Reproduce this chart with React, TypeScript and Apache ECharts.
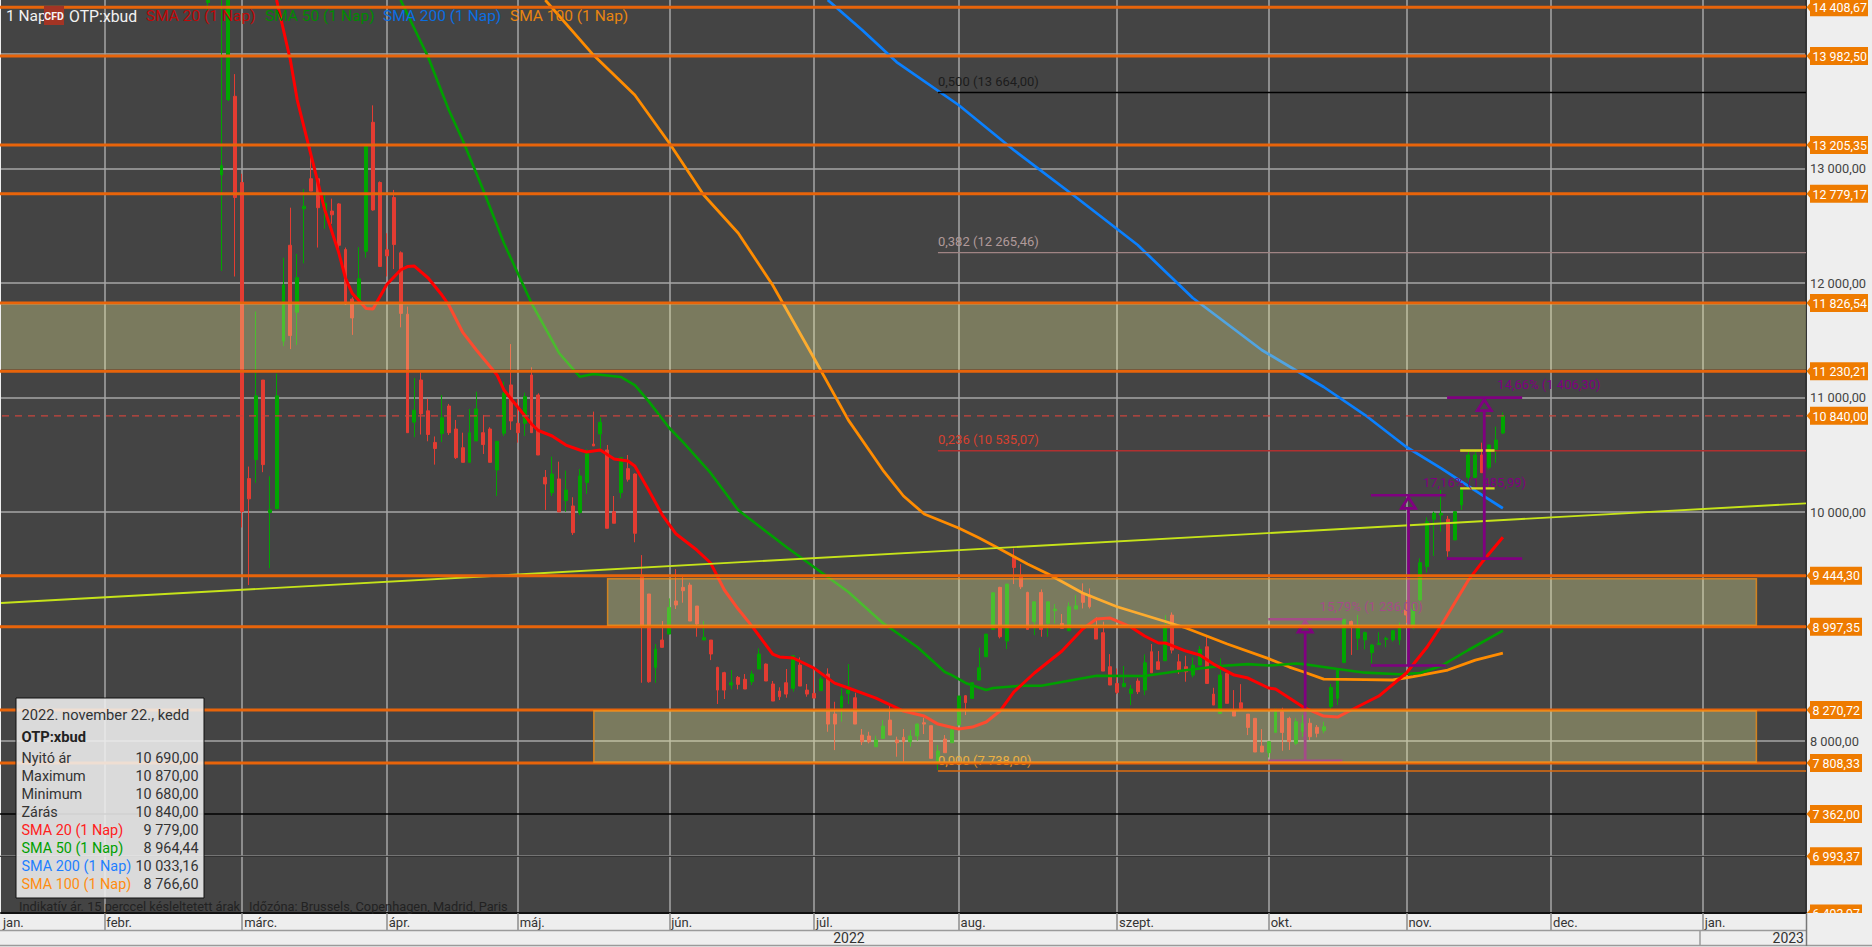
import React, { useEffect, useRef } from "react";
import * as echarts from "echarts";

const FONT = "Roboto";
const W = 1872;
const H = 947;

// ---------- axis ----------
const categoryCount = 263;
const monthStarts = [0, 15, 35, 56, 75, 97, 118, 139, 162, 184, 204, 225, 247];
const monthNames = ["jan.", "febr.", "márc.", "ápr.", "máj.", "jún.", "júl.", "aug.", "szept.", "okt.", "nov.", "dec.", "jan."];
const yGridValues = [7000, 8000, 9000, 10000, 11000, 12000, 13000, 14000];
const yLabelValues = [8000, 10000, 11000, 12000, 13000];
const yMin = 6498;
const yMax = 14472;

// ---------- candles: [open, close, low, high], first row is category 30 ----------
const candleStart = 30;
const candles: number[][] = [
  [14450, 14700, 14385, 14800], [14900, 15100, 14700, 15200], [12944, 13026, 12106, 14600], [13601, 14600, 13590, 14650],
  [13631, 12747, 12057, 13825], [12878, 10004, 9865, 12954], [10292, 10115, 9362, 10397], [10457, 11015, 10256, 11751],
  [11153, 10414, 10348, 11153], [9996, 10019, 9510, 10312], [10029, 11015, 10029, 11209], [11492, 11984, 11449, 12221],
  [12330, 11541, 11423, 12658], [11745, 12047, 11459, 12254], [12648, 12671, 12172, 12822], [12911, 12803, 12803, 13184],
  [12911, 12658, 12310, 12911], [12632, 12697, 12474, 12770], [12629, 12596, 12517, 12737], [12691, 12330, 12270, 12698],
  [12293, 11817, 11810, 12310], [11860, 11695, 11547, 11876], [11843, 12037, 11843, 12313], [12277, 13207, 12221, 13207],
  [13404, 12638, 12632, 13552], [12878, 12145, 12145, 12888], [12290, 12237, 12057, 12435], [12747, 12336, 12122, 12813],
  [12264, 11735, 11613, 12277], [11728, 10693, 10693, 11794], [10785, 10890, 10654, 11170], [11153, 10857, 10677, 11219],
  [10884, 10677, 10618, 10989], [10608, 10555, 10414, 10660], [10686, 10824, 10611, 11022], [10926, 10693, 10673, 10944],
  [10725, 10475, 10463, 10804], [10562, 10434, 10434, 10693], [10434, 10693, 10434, 10900], [10621, 10900, 10621, 11051],
  [10693, 10589, 10507, 10848], [10725, 10434, 10434, 10740], [10367, 10618, 10140, 10618], [10688, 11037, 10664, 11139],
  [11110, 10795, 10717, 11467], [10775, 10693, 10606, 10987], [10775, 11008, 10664, 11043], [11197, 10693, 10693, 11264],
  [11022, 10498, 10498, 11037], [10303, 10245, 10018, 10367], [10169, 10332, 10140, 10484], [10289, 10001, 10001, 10440],
  [10100, 10193, 10003, 10362], [10053, 9820, 9800, 10129], [9995, 10315, 9974, 10376], [10257, 10513, 10158, 10548],
  [10594, 10577, 10577, 10877], [10682, 10784, 10542, 10827], [10542, 9858, 9858, 10586], [10003, 9902, 9902, 10140],
  [10169, 10475, 10120, 10478], [10379, 10286, 10266, 10498], [10332, 9814, 9736, 10338], [9450, 9000, 8509, 9624],
  [9284, 8518, 8509, 9284], [8643, 8803, 8509, 8847], [8882, 8818, 8818, 9048], [8934, 9167, 8934, 9246],
  [9223, 9188, 9153, 9502], [9342, 9313, 9208, 9435], [9362, 9048, 9048, 9383], [9179, 9022, 8911, 9179],
  [8882, 8905, 8882, 9048], [8882, 8760, 8707, 8882], [8643, 8445, 8323, 8649], [8597, 8445, 8367, 8605],
  [8489, 8509, 8451, 8620], [8556, 8495, 8451, 8568], [8539, 8454, 8454, 8585], [8518, 8585, 8489, 8614],
  [8629, 8760, 8629, 8809], [8672, 8524, 8524, 8678], [8498, 8349, 8349, 8524], [8437, 8387, 8358, 8469],
  [8509, 8410, 8378, 8629], [8460, 8745, 8431, 8745], [8664, 8480, 8480, 8731], [8445, 8410, 8387, 8498],
  [8416, 8375, 8375, 8620], [8440, 8541, 8440, 8562], [8585, 8148, 8081, 8635], [8236, 8148, 7921, 8343],
  [8294, 8393, 8169, 8460], [8416, 8445, 8323, 8672], [8378, 8148, 8148, 8422], [8052, 7994, 7965, 8105],
  [8044, 7994, 7980, 8081], [7950, 8009, 7950, 8047], [8023, 8131, 8023, 8183], [8183, 8052, 8052, 8306],
  [8009, 7985, 7863, 8038], [8032, 7994, 7820, 8105], [7994, 8044, 7950, 8096], [8044, 8148, 8003, 8154],
  [8160, 8148, 8061, 8204], [8134, 7849, 7849, 8134], [7819, 7913, 7747, 7965], [8017, 7898, 7898, 8052],
  [7985, 8096, 7985, 8125], [8140, 8393, 8140, 8393], [8396, 8335, 8227, 8402], [8372, 8509, 8372, 8509],
  [8532, 8640, 8532, 8815], [8736, 8934, 8736, 8934], [8975, 9295, 8975, 9295], [9342, 8911, 8896, 9347],
  [8873, 9371, 8803, 9371], [9609, 9516, 9371, 9682], [9435, 9347, 9327, 9545], [9298, 8975, 8975, 9304],
  [9042, 9216, 8925, 9216], [9298, 8975, 8911, 9324], [9027, 9216, 8911, 9216], [9138, 9152, 9027, 9196],
  [9027, 8984, 8984, 9109], [8963, 9173, 8963, 9211], [9152, 9182, 9152, 9275], [9289, 9211, 9158, 9377],
  [9275, 9173, 9158, 9333], [9004, 8890, 8890, 9080], [8946, 8611, 8611, 9042], [8649, 8489, 8489, 8759],
  [8503, 8425, 8410, 8634], [8474, 8503, 8474, 8655], [8416, 8454, 8314, 8489], [8524, 8431, 8410, 8547],
  [8445, 8684, 8401, 8756], [8780, 8596, 8596, 8847], [8692, 8626, 8626, 8786], [8701, 8992, 8701, 9100],
  [9100, 8794, 8765, 9123], [8692, 8620, 8585, 8759], [8649, 8605, 8518, 8745], [8576, 8663, 8556, 8730],
  [8663, 8800, 8663, 8829], [8823, 8503, 8503, 8925], [8410, 8314, 8314, 8465], [8241, 8576, 8241, 8722],
  [8591, 8329, 8329, 8605], [8265, 8218, 8218, 8445], [8334, 8285, 8285, 8497], [8235, 8119, 8052, 8235],
  [8198, 7904, 7904, 8198], [7956, 7904, 7904, 8104], [7898, 7994, 7857, 7994], [8075, 8256, 8075, 8285],
  [8256, 8075, 7915, 8291], [8198, 7995, 7922, 8212], [7980, 8169, 7965, 8198], [8082, 8155, 8038, 8227],
  [8155, 8038, 8009, 8198], [8120, 8067, 8032, 8140], [8090, 8125, 8067, 8169], [8300, 8469, 8271, 8498],
  [8373, 8627, 8315, 8635], [8685, 9063, 8685, 9063], [9043, 8993, 8752, 9052], [8897, 8993, 8795, 9101],
  [8883, 8947, 8801, 8956], [8772, 8839, 8679, 8848], [8842, 8854, 8842, 8950], [8888, 8897, 8819, 8912],
  [8883, 8964, 8868, 8970], [8883, 8993, 8839, 9034], [9145, 9101, 9028, 9232], [9005, 9153, 8976, 9200],
  [9232, 9558, 9203, 9596], [9523, 9916, 9471, 9954], [9937, 9989, 9616, 10003], [9974, 9989, 9829, 10193],
  [9937, 9660, 9610, 9966], [9756, 10003, 9756, 10003], [10062, 10207, 10018, 10222], [10303, 10498, 10222, 10542],
  [10303, 10498, 10286, 10536], [10498, 10344, 10340, 10606], [10391, 10586, 10373, 10586], [10548, 10629, 10431, 10746],
  [10690, 10840, 10680, 10870],
];

// ---------- moving averages: [category, value] ----------
const sma20: number[][] = [
  [40, 14472], [42, 13948], [43, 13598], [45, 13118], [47, 12638], [49, 12271], [50, 12044], [51, 11908], [53, 11777], [54, 11773],
  [56, 11987], [58, 12114], [59, 12144], [60, 12148], [62, 12044], [64, 11895], [65, 11808], [67, 11572], [69, 11415], [72, 11197],
  [73, 11066], [75, 10917], [77, 10769], [78, 10712], [80, 10664], [82, 10585], [84, 10542], [85, 10524], [87, 10542], [89, 10463],
  [91, 10445], [92, 10402], [94, 10192], [96, 9974], [98, 9808], [101, 9668], [103, 9555], [105, 9319], [107, 9153], [109, 9004],
  [112, 8760], [113, 8734], [115, 8725], [118, 8637], [121, 8506], [123, 8463], [127, 8375], [131, 8262], [134, 8218], [136, 8148],
  [139, 8105], [141, 8122], [143, 8166], [145, 8262], [147, 8428], [150, 8594], [154, 8786], [157, 8978], [159, 9065], [161, 9074],
  [164, 8996], [166, 8917], [168, 8856], [169, 8856], [172, 8786], [174, 8751], [176, 8672], [179, 8576], [181, 8550], [184, 8463],
  [185, 8454], [187, 8375], [189, 8297], [192, 8218], [194, 8209], [196, 8271], [200, 8393], [204, 8594], [207, 8821], [209, 9004],
  [211, 9205], [213, 9406], [215, 9563], [218, 9779],
];
const sma50: number[][] = [
  [58, 14472], [62, 13974], [65, 13511], [67, 13249], [70, 12812], [73, 12349], [77, 11825], [81, 11389], [84, 11182], [86, 11205],
  [90, 11179], [92, 11109], [94, 10969], [97, 10734], [99, 10611], [103, 10341], [107, 10017], [114, 9694], [118, 9520], [123, 9301],
  [128, 9031], [133, 8821], [137, 8603], [138, 8576], [140, 8507], [143, 8445], [144, 8463], [148, 8483], [151, 8483], [154, 8515],
  [159, 8570], [166, 8568], [171, 8611], [177, 8655], [181, 8672], [184, 8659], [188, 8677], [189, 8672], [194, 8629], [198, 8597],
  [203, 8583], [206, 8594], [209, 8655], [213, 8795], [218, 8964],
];
const sma100: number[][] = [
  [79, 14472], [86, 13991], [92, 13642], [97, 13223], [102, 12769], [107, 12437], [112, 11983], [118, 11345], [123, 10803], [128, 10367],
  [131, 10140], [134, 9983], [139, 9860], [142, 9773], [145, 9677], [149, 9546], [152, 9458], [157, 9293], [162, 9173], [169, 9044],
  [172, 8987], [178, 8847], [184, 8720], [187, 8646], [189, 8605], [192, 8541], [198, 8537], [202, 8533], [205, 8562], [210, 8620],
  [214, 8707], [218, 8767],
];
const sma200: number[][] = [
  [120, 14472], [125, 14210], [130, 13930], [139, 13555], [147, 13162], [156, 12751], [165, 12332], [173, 11869], [183, 11415], [192, 11092],
  [198, 10847], [204, 10568], [209, 10384], [215, 10148], [218, 10033],
];
const trendLine: number[][] = [[0, 9205], [262, 10076]];

// ---------- horizontal levels ----------
const orangeLevels = [14408.67, 13982.5, 13205.35, 12779.17, 11826.54, 11230.21, 9444.3, 8997.35, 8270.72, 7808.33];
const blackLevels = [7362, 6993.37];
const bottomLevel = 6493.97;
const lastPrice = 10840;

// ---------- zones: [from category, to category, top, bottom] ----------
const zones: number[][] = [
  [0, 262, 11816, 11246],
  [88.05, 254.8, 9418, 9012],
  [86.05, 254.8, 8265, 7814],
];

// ---------- Fibonacci ----------
const fibStart = 136;
const fibValues = [13664, 12265.46, 10535.07, 7738];
const fibLabels = ["0,500 (13 664,00)", "0,382 (12 265,46)", "0,236 (10 535,07)", "0,000 (7 738,00)"];
const fibLineColors = ["#000000", "#a08484", "#b03030", "#dd6c10"];
const fibTextColors = ["#1c1c1c", "#b09a9a", "#d8402f", "#e8931c"];

// ---------- measuring tools ----------
const toolFrom = [183.95, 198.85, 209.9];
const toolTo = [194.7, 209.7, 220.8];
const toolAt = [189.3, 204.3, 215.3];
const toolLow = [7828, 8660, 9593];
const toolHigh = [9064, 10146, 10999.3];
const toolLabelAt = [191.4, 206.4, 217.2];
const toolLabels = ["15,79% (1 236,00)", "17,16% (1 485,99)", "14,66% (1 406,30)"];

// ---------- yellow marks: [from, to, value] ----------
const yellowMarks: number[][] = [[211.8, 216.8, 10538], [211.8, 216.8, 10207]];

// ---------- info box ----------
const infoDate = "2022. november 22., kedd";
const infoTitle = "OTP:xbud";
const infoNames = ["Nyitó ár", "Maximum", "Minimum", "Zárás", "SMA 20 (1 Nap)", "SMA 50 (1 Nap)", "SMA 200 (1 Nap)", "SMA 100 (1 Nap)"];
const infoValues = ["10 690,00", "10 870,00", "10 680,00", "10 840,00", "9 779,00", "8 964,44", "10 033,16", "8 766,60"];
const infoColors = ["#333", "#333", "#333", "#333", "#ff2020", "#00a000", "#1e7fff", "#ff8c10"];

const fmt = (v: number) => {
  const [a, b] = v.toFixed(2).split(".");
  return a.replace(/\B(?=(\d{3})+$)/g, " ") + "," + b;
};

const fx = (api: any, i: number, v: number) => {
  const a = api.coord([0, v]);
  const b = api.coord([1, v]);
  return [a[0] + i * (b[0] - a[0]), a[1]];
};

const hLine = (x1: number, x2: number, y: number, stroke: string, lineWidth: number, lineDash?: number[]) => ({
  type: "line",
  shape: { x1, y1: y, x2, y2: y },
  style: { stroke, lineWidth, lineDash },
});

const customBase = { type: "custom", silent: true, coordinateSystem: "cartesian2d", animation: false };

function buildOption(): any {
  const categories = Array.from({ length: categoryCount }, (_, i) => String(i));
  const candleData = categories.map((_, i) => {
    const row = candles[i - candleStart];
    return row ? row : ["-", "-", "-", "-"];
  });
  const isMonth = (i: number) => monthStarts.includes(i);
  const t = (style: any, z = 100) => ({ type: "text", z, style: { fontFamily: FONT, ...style } });

  const graphicEls: any[] = [
    { type: "line", z: 100, shape: { x1: 0, y1: 930.5, x2: 1806, y2: 930.5 }, style: { stroke: "#9a9a9a", lineWidth: 1.5 } },
    { type: "line", z: 100, shape: { x1: 0, y1: 945.5, x2: 1872, y2: 945.5 }, style: { stroke: "#9a9a9a", lineWidth: 1.5 } },
    { type: "line", z: 100, shape: { x1: 1700, y1: 930, x2: 1700, y2: 946 }, style: { stroke: "#9a9a9a", lineWidth: 1.5 } },
    { type: "line", z: 100, shape: { x1: 1806.5, y1: 913, x2: 1806.5, y2: 946 }, style: { stroke: "#777", lineWidth: 1.5 } },
    t({ x: 849, y: 938, text: "2022", fontSize: 14, fill: "#333", align: "center", verticalAlign: "middle" }),
    t({ x: 1804, y: 938, text: "2023", fontSize: 14, fill: "#333", align: "right", verticalAlign: "middle" }),
    t({ x: 6, y: 16, text: "1 Nap", fontSize: 15.5, fill: "#f2f2f2", verticalAlign: "middle" }),
    { type: "rect", z: 100, shape: { x: 44, y: 6, width: 20, height: 19 }, style: { fill: "#a43424" } },
    t({ x: 54, y: 16, text: "CFD", fontSize: 10.5, fontWeight: "bold", fill: "#f4f4f4", align: "center", verticalAlign: "middle" }, 101),
    t({ x: 69, y: 16, text: "OTP:xbud", fontSize: 15.8, fill: "#f2f2f2", verticalAlign: "middle" }),
    t({ x: 146, y: 16, text: "SMA 20 (1 Nap)", fontSize: 15.5, fill: "#c00808", verticalAlign: "middle" }),
    t({ x: 265, y: 16, text: "SMA 50 (1 Nap)", fontSize: 15.5, fill: "#008a00", verticalAlign: "middle" }),
    t({ x: 383, y: 16, text: "SMA 200 (1 Nap)", fontSize: 15.5, fill: "#0a6ee0", verticalAlign: "middle" }),
    t({ x: 510, y: 16, text: "SMA 100 (1 Nap)", fontSize: 15.5, fill: "#e88410", verticalAlign: "middle" }),
    t({ x: 19, y: 906, text: "Indikatív ár. 15 perccel késleltetett árak", fontSize: 12.8, fill: "#222", verticalAlign: "middle" }),
    t({ x: 249, y: 906, text: "Időzóna: Brussels, Copenhagen, Madrid, Paris", fontSize: 12.8, fill: "#222", verticalAlign: "middle" }),
    { type: "rect", z: 100, shape: { x: 16, y: 698, width: 188, height: 200 }, style: { fill: "rgba(240,240,240,0.87)", stroke: "#111", lineWidth: 1 } },
    t({ x: 21.5, y: 715, text: infoDate, fontSize: 14.7, fill: "#333", verticalAlign: "middle" }, 101),
    t({ x: 21.5, y: 737, text: infoTitle, fontSize: 14.7, fontWeight: "bold", fill: "#222", verticalAlign: "middle" }, 101),
  ];
  infoNames.forEach((name, i) => {
    const y = 758 + i * 18;
    graphicEls.push(t({ x: 21.5, y, text: name, fontSize: 14.4, fill: infoColors[i], verticalAlign: "middle" }, 101));
    graphicEls.push(t({ x: 198.5, y, text: infoValues[i], fontSize: 14.4, fill: "#333", align: "right", verticalAlign: "middle" }, 101));
  });

  const lineSeries = (name: string, data: number[][], color: string, width: number) => ({
    type: "line",
    name,
    data,
    z: 3,
    showSymbol: false,
    symbol: "none",
    silent: true,
    lineStyle: { color, width },
  });

  const allTags = [...orangeLevels, ...blackLevels, bottomLevel, lastPrice];

  return {
    animation: false,
    backgroundColor: "#eeeeee",
    textStyle: { fontFamily: FONT },
    tooltip: { show: false },
    legend: { show: false },
    grid: { left: 0, right: 66, top: 0, bottom: 34, show: true, backgroundColor: "#444444", borderWidth: 0 },
    xAxis: {
      type: "category",
      data: categories,
      boundaryGap: false,
      axisLine: { show: true, onZero: false, lineStyle: { color: "#111", width: 2 } },
      axisTick: { show: true, interval: (i: number) => isMonth(i) && i > 0, length: 17, lineStyle: { color: "#8c8c8c", width: 1.5 } },
      splitLine: { show: true, interval: (i: number) => isMonth(i) && i > 0, lineStyle: { color: "#a6a6a6", width: 1.5 } },
      axisLabel: {
        show: true,
        interval: (i: number) => isMonth(i),
        formatter: (_: string, i: number) => monthNames[monthStarts.indexOf(i)] ?? "",
        align: "left",
        margin: 3,
        padding: [0, 0, 0, 2],
        color: "#333",
        fontSize: 13,
        fontFamily: FONT,
        hideOverlap: false,
      },
    },
    yAxis: {
      type: "value",
      position: "right",
      min: yMin,
      max: yMax,
      axisLine: { show: true, lineStyle: { color: "#333", width: 2 } },
      axisTick: { show: false, customValues: yGridValues },
      splitLine: { show: true, lineStyle: { color: "#a6a6a6", width: 1.5 } },
      axisLabel: {
        show: true,
        customValues: yLabelValues,
        formatter: (v: number) => fmt(v),
        margin: 4,
        color: "#444",
        fontSize: 12.8,
        fontFamily: FONT,
      },
    },
    graphic: { z: 100, elements: graphicEls },
    series: [
      {
        type: "candlestick",
        name: "OTP:xbud",
        data: candleData,
        z: 2,
        silent: true,
        barWidth: 3.4,
        itemStyle: { color: "#00a500", color0: "#e43c32", borderColor: "#00a500", borderColor0: "#e43c32", borderWidth: 1 },
      },
      lineSeries("SMA 100 (1 Nap)", sma100, "#ff8c00", 2.8),
      lineSeries("SMA 200 (1 Nap)", sma200, "#0a80ff", 2.7),
      lineSeries("SMA 50 (1 Nap)", sma50, "#00a000", 2.6),
      lineSeries("SMA 20 (1 Nap)", sma20, "#ff0000", 3),
      { ...lineSeries("Trend", trendLine, "#c6e31a", 1.9), z: 4 },
      {
        ...customBase,
        name: "Fibonacci",
        z: 4,
        data: fibValues.map((v, i) => [fibStart, v, i]),
        renderItem: (params: any, api: any) => {
          const i = params.dataIndex;
          const [x, y] = fx(api, fibStart, fibValues[i]);
          const right = params.coordSys.x + params.coordSys.width;
          return {
            type: "group",
            children: [
              hLine(x, right, y, fibLineColors[i], 1.4),
              { type: "text", style: { x, y: y - 11, text: fibLabels[i], fill: fibTextColors[i], fontFamily: FONT, fontSize: 13, verticalAlign: "middle" } },
            ],
          };
        },
      },
      {
        ...customBase,
        name: "Lines",
        z: 4,
        data: [[0, lastPrice]],
        renderItem: (params: any, api: any) => {
          const y = api.coord([0, lastPrice])[1];
          return hLine(2, params.coordSys.x + params.coordSys.width, y, "#c8443c", 1.2, [7, 6]);
        },
      },
      {
        ...customBase,
        name: "Yellow",
        z: 4,
        data: yellowMarks.map((m) => [m[0], m[2]]),
        renderItem: (params: any, api: any) => {
          const m = yellowMarks[params.dataIndex];
          const a = fx(api, m[0], m[2]);
          const b = fx(api, m[1], m[2]);
          return hLine(a[0], b[0], a[1], "#d8d820", 2.4);
        },
      },
      {
        ...customBase,
        name: "Tools",
        z: 5,
        data: toolLabels.map((_, i) => [toolAt[i], toolHigh[i]]),
        renderItem: (params: any, api: any) => {
          const i = params.dataIndex;
          const lo = fx(api, toolFrom[i], toolLow[i]);
          const hi = fx(api, toolTo[i], toolHigh[i]);
          const at = fx(api, toolAt[i], toolHigh[i]);
          const lab = fx(api, toolLabelAt[i], toolHigh[i]);
          const c = "#800080";
          return {
            type: "group",
            children: [
              hLine(lo[0], hi[0], lo[1], c, 2.6),
              hLine(lo[0], hi[0], hi[1], c, 2.6),
              { type: "line", shape: { x1: at[0], y1: hi[1] + 13, x2: at[0], y2: lo[1] }, style: { stroke: c, lineWidth: 2.8 } },
              {
                type: "polygon",
                shape: { points: [[at[0], hi[1] + 2], [at[0] - 7, hi[1] + 13], [at[0] + 7, hi[1] + 13]] },
                style: { fill: "none", stroke: c, lineWidth: 2.8 },
              },
              { type: "text", style: { x: lab[0], y: hi[1] - 13, text: toolLabels[i], fill: c, fontFamily: FONT, fontSize: 13, verticalAlign: "middle" } },
            ],
          };
        },
      },
      {
        ...customBase,
        name: "Levels",
        z: 5,
        data: [...orangeLevels, ...blackLevels].map((v) => [0, v]),
        renderItem: (params: any, api: any) => {
          const i = params.dataIndex;
          const n = orangeLevels.length;
          const v = i < n ? orangeLevels[i] : blackLevels[i - n];
          const y = api.coord([0, v])[1];
          const right = params.coordSys.x + params.coordSys.width;
          if (i < n) return hLine(0, right, y, "#e8640a", 3);
          return hLine(0, right, y, i === n ? "#000" : "#1c1c1c", i === n ? 1.4 : 1);
        },
      },
      {
        ...customBase,
        name: "Zones",
        z: 6,
        data: zones.map((z) => [z[0], z[2]]),
        renderItem: (params: any, api: any) => {
          const z = zones[params.dataIndex];
          const a = fx(api, z[0], z[2]);
          const b = fx(api, z[1], z[3]);
          return {
            type: "rect",
            shape: { x: a[0], y: a[1], width: b[0] - a[0], height: b[1] - a[1] },
            style: { fill: "rgba(248,248,155,0.3)", stroke: params.dataIndex === 0 ? "none" : "rgba(240,140,20,0.8)", lineWidth: 1.5 },
          };
        },
      },
      {
        ...customBase,
        name: "Tags",
        z: 8,
        data: allTags.map((v) => [0, v]),
        renderItem: (params: any, api: any) => {
          const v = allTags[params.dataIndex];
          const y = api.coord([0, v])[1];
          const text = fmt(v);
          const x = params.coordSys.x + params.coordSys.width + 4;
          const w = text.length >= 9 ? 58 : 52;
          return {
            type: "group",
            clipPath: { type: "rect", shape: { x: 1800, y: 0, width: 72, height: 913 } },
            children: [
              { type: "polygon", shape: { points: [[x - 3.5, y], [x, y - 4], [x, y + 4]] }, style: { fill: "#ee7b00" } },
              { type: "rect", shape: { x, y: y - 9, width: w, height: 18 }, style: { fill: "#ee7b00" } },
              { type: "text", x: x + 2.5, y, scaleX: 0.92, style: { x: 0, y: 0, text, fill: "#ffffff", fontFamily: FONT, fontSize: 13.5, verticalAlign: "middle" } },
            ],
          };
        },
      },
    ],
  };
}

export default function App() {
  const ref = useRef<HTMLDivElement | null>(null);
  useEffect(() => {
    document.body.style.margin = "0";
    document.body.style.overflow = "hidden";
    const chart = echarts.init(ref.current!, undefined, { renderer: "svg", width: W, height: H });
    chart.setOption(buildOption());
    return () => chart.dispose();
  }, []);
  return <div ref={ref} style={{ width: W, height: H }} />;
}
